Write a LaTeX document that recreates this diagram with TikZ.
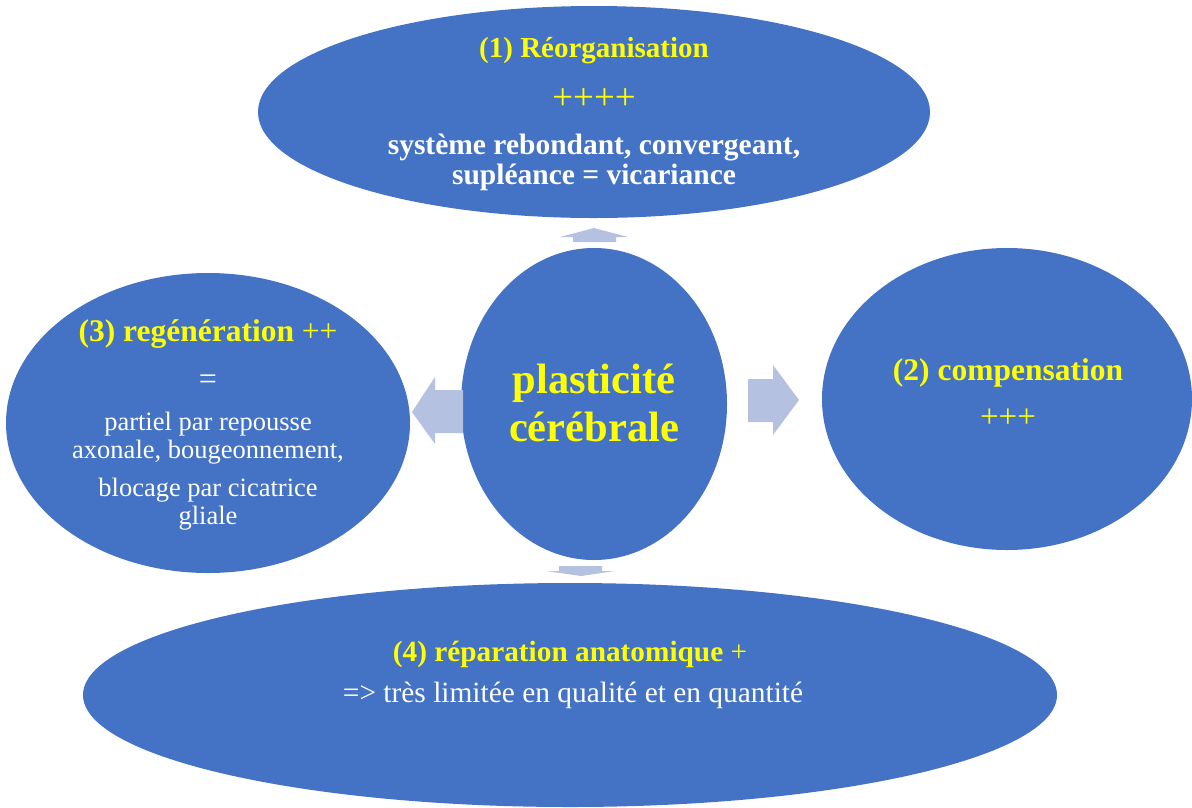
\documentclass[tikz,border=0pt]{standalone}
\usepackage{fontspec}
\setmainfont{Liberation Serif}
\usetikzlibrary{shapes.geometric}
\definecolor{ellblue}{HTML}{4472C4}
\definecolor{arrblue}{HTML}{B4C1E1}
\definecolor{ylw}{HTML}{FFFF00}
\tikzset{
  blob/.style={ellipse, fill=ellblue, draw=none, inner sep=0pt},
  ytxt/.style={text=ylw, align=center, inner sep=0pt},
  wtxt/.style={text=white, align=center, inner sep=0pt},
  blockarrow/.style={fill=arrblue, draw=none}
}
\newcommand{\fsz}[1]{\fontsize{#1}{#1}\selectfont}
\begin{document}
\begin{tikzpicture}[x=1pt,y=-1pt]
\useasboundingbox (0,0) rectangle (1192,807);
% ellipses
\node[blob, minimum width=672pt, minimum height=212pt] (reorg) at (594,112) {};
\node[blob, minimum width=404pt, minimum height=300pt] (regen) at (208,423) {};
\node[blob, minimum width=370pt, minimum height=302pt] (comp) at (1007,399) {};
\node[blob, minimum width=974pt, minimum height=224pt] (repar) at (570,695) {};
\node[blob, minimum width=266pt, minimum height=312pt] (plast) at (594,404) {};
% block arrows
\fill[blockarrow] (573,242) -- (573,237) -- (560,237) -- (594,228) -- (628,237) -- (616,237) -- (616,242) -- cycle;
\fill[blockarrow] (559,566) -- (602,566) -- (602,571) -- (615,571) -- (581,576) -- (546,571) -- (559,571) -- cycle;
\fill[blockarrow] (463,390) -- (435,390) -- (435,377) -- (412,412) -- (435,444) -- (435,433) -- (463,433) -- cycle;
\fill[blockarrow] (748,379) -- (773,379) -- (773,365) -- (799,400) -- (773,435) -- (773,422) -- (748,422) -- cycle;
% texts (1)
\node[ytxt, font=\fsz{29}\bfseries] (t1a) at (594,51) {(1) Réorganisation};
\node[ytxt, font=\fsz{37}] (t1b) at (594,99) {++++};
\node[wtxt, font=\fsz{29.5}\bfseries] (t1c) at (594,148) {système rebondant, convergeant,};
\node[wtxt, font=\fsz{29.5}\bfseries] (t1d) at (594,177) {supléance = vicariance};
% centre
\node[ytxt, font=\fsz{42.5}\bfseries] (pa) at (594,383) {plasticité};
\node[ytxt, font=\fsz{42.5}\bfseries] (pb) at (594,427) {cérébrale};
% (3)
\node[ytxt, font=\fsz{31.5}] (t3a) at (208,334) {\textbf{(3) regénération} ++};
\node[wtxt, font=\fsz{32}] (t3b) at (208,382) {=};
\node[wtxt, font=\fsz{26.5}] (t3c) at (208,424) {partiel par repousse};
\node[wtxt, font=\fsz{26.5}] (t3d) at (208,452) {axonale, bougeonnement,};
\node[wtxt, font=\fsz{26.5}] (t3e) at (208,490) {blocage par cicatrice};
\node[wtxt, font=\fsz{26.5}] (t3f) at (208,518) {gliale};
% (2)
\node[ytxt, font=\fsz{31.5}\bfseries] (t2a) at (1008,373) {(2) compensation};
\node[ytxt, font=\fsz{33}] (t2b) at (1008,418) {+++};
% (4)
\node[ytxt, font=\fsz{29.3}] (t4a) at (570,654) {\textbf{(4) réparation anatomique} +};
\node[wtxt, font=\fsz{29.4}] (t4b) at (573,695) {=> très limitée en qualité et en quantité};
\end{tikzpicture}
\end{document}
